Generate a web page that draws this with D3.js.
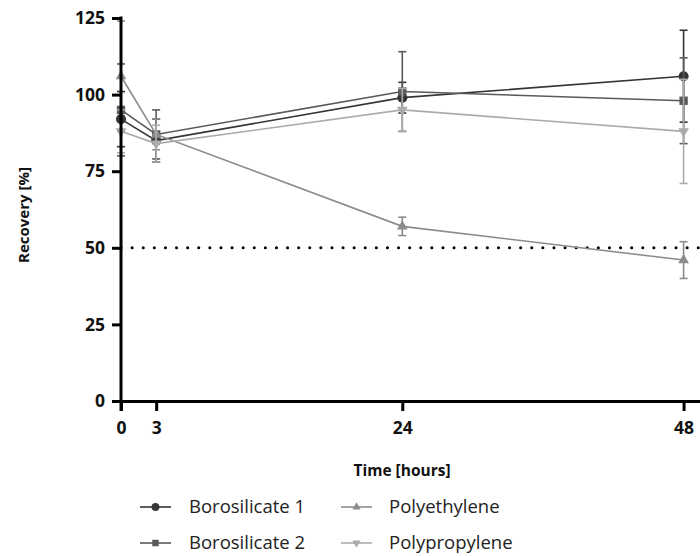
<!DOCTYPE html>
<html>
<head>
<meta charset="utf-8">
<title>Recovery over time</title>
<style>
  body { margin: 0; background: #fff; }
  svg text { font-family: "Open Sans", Lato, sans-serif; }
</style>
</head>
<body>
<script src="https://d3js.org/d3.v7.min.js"></script>
<script>
// data
const hours = [0, 3, 24, 48];
const xTicks = [0, 3, 24, 48];
const yTicks = [0, 25, 50, 75, 100, 125];

const boro1 = [92, 85, 99, 106];
const boro1Err = [9, 7, 5, 15];
const boro2 = [95, 87, 101, 98];
const boro2Err = [15, 8, 13, 14];
const polyEth = [106, 87, 57, 46];
const polyEthErr = [18, 5, 3, 6];
const polyProp = [88, 84, 95, 88];
const polyPropErr = [7, 6, 7, 17];

const threshold = 50;

const series = [
  {name: "Borosilicate 1", vals: boro1, err: boro1Err, color: "#353535", sym: d3.symbolCircle, size: 80},
  {name: "Borosilicate 2", vals: boro2, err: boro2Err, color: "#5a5a5a", sym: d3.symbolSquare, size: 70},
  {name: "Polyethylene", vals: polyEth, err: polyEthErr, color: "#8c8c8c", sym: d3.symbolTriangle, size: 50, rot: 0},
  {name: "Polypropylene", vals: polyProp, err: polyPropErr, color: "#ababab", sym: d3.symbolTriangle, size: 50, rot: 180}
];

const W = 700, H = 556;
const svg = d3.select("body").append("svg").attr("width", W).attr("height", H);

let x = d3.scaleLinear().domain([0, 49.4]).range([121, 700]);
let y = d3.scaleLinear().domain([0, 125]).range([401, 18]);

// dotted reference line
svg.append("line")
  .attr("x1", x(0)).attr("x2", W)
  .attr("y1", y(threshold)).attr("y2", y(threshold))
  .attr("stroke", "#000").attr("stroke-width", 3)
  .attr("stroke-linecap", "round")
  .attr("stroke-dasharray", "0.1 11");

// series: lines, error bars, markers
series.forEach(s => {
  let g = svg.append("g");
  let pts = hours.map((h, i) => ({h: h, v: s.vals[i], e: s.err[i]}));

  g.append("path")
    .datum(pts)
    .attr("fill", "none")
    .attr("stroke", s.color)
    .attr("stroke-width", 1.6)
    .attr("d", d3.line().x(d => x(d.h)).y(d => y(d.v)));

  let eb = g.selectAll(".eb").data(pts).enter().append("g")
    .attr("stroke", s.color).attr("stroke-width", 1.6);
  eb.append("line")
    .attr("x1", d => x(d.h)).attr("x2", d => x(d.h))
    .attr("y1", d => y(d.v - d.e)).attr("y2", d => y(d.v + d.e));
  eb.append("line")
    .attr("x1", d => x(d.h) - 4).attr("x2", d => x(d.h) + 4)
    .attr("y1", d => y(d.v - d.e)).attr("y2", d => y(d.v - d.e));
  eb.append("line")
    .attr("x1", d => x(d.h) - 4).attr("x2", d => x(d.h) + 4)
    .attr("y1", d => y(d.v + d.e)).attr("y2", d => y(d.v + d.e));

  g.selectAll(".mk").data(pts).enter().append("path")
    .attr("d", d3.symbol().type(s.sym).size(s.size))
    .attr("fill", s.color)
    .attr("transform", d => "translate(" + x(d.h) + "," + y(d.v) + ")" + (s.rot ? " rotate(" + s.rot + ")" : ""));
});

// axes
const xAxis = d3.axisBottom(x).tickValues(xTicks).tickSize(10).tickSizeOuter(0).tickPadding(11);
const yAxis = d3.axisLeft(y).tickValues(yTicks).tickSize(9).tickSizeOuter(0).tickPadding(7);

let gx = svg.append("g").attr("transform", "translate(0," + y(0) + ")").call(xAxis);
let gy = svg.append("g").attr("transform", "translate(" + x(0) + ",0)").call(yAxis);

[gx, gy].forEach(g => {
  g.select(".domain").attr("stroke", "#000").attr("stroke-width", 3);
  g.selectAll(".tick line").attr("stroke", "#000").attr("stroke-width", 3);
  g.selectAll(".tick text")
    .attr("fill", "#111")
    .style("font-size", "17.5px")
    .style("font-weight", "bold");
});
// y axis runs a bit past the x axis, like the original
gy.select(".domain").attr("d", "M0," + (y(125) - 1.5) + "V" + (y(0) + 10));

// axis titles
svg.append("text")
  .attr("x", 402).attr("y", 476)
  .attr("text-anchor", "middle")
  .style("font-size", "15.5px").style("font-weight", "bold").attr("fill", "#111")
  .text("Time [hours]");

svg.append("text")
  .attr("transform", "translate(29,215) rotate(-90)")
  .attr("text-anchor", "middle")
  .style("font-size", "15px").style("font-weight", "bold").attr("fill", "#111")
  .text("Recovery [%]");

// legend
const legPos = [[140, 507], [140, 543], [341, 507], [341, 543]];
series.forEach((s, i) => {
  let lg = svg.append("g").attr("transform", "translate(" + legPos[i][0] + "," + legPos[i][1] + ")");
  lg.append("line").attr("x1", 0).attr("x2", 31).attr("y1", 0).attr("y2", 0)
    .attr("stroke", s.color).attr("stroke-width", 1.6);
  lg.append("path")
    .attr("d", d3.symbol().type(s.sym).size(s.size * 0.6))
    .attr("fill", s.color)
    .attr("transform", "translate(15.5,0)" + (s.rot ? " rotate(" + s.rot + ")" : ""));
  lg.append("text")
    .attr("x", i < 2 ? 49 : 48).attr("y", 6)
    .style("font-size", "18.5px").attr("fill", "#222")
    .text(s.name);
});
</script>
</body>
</html>
